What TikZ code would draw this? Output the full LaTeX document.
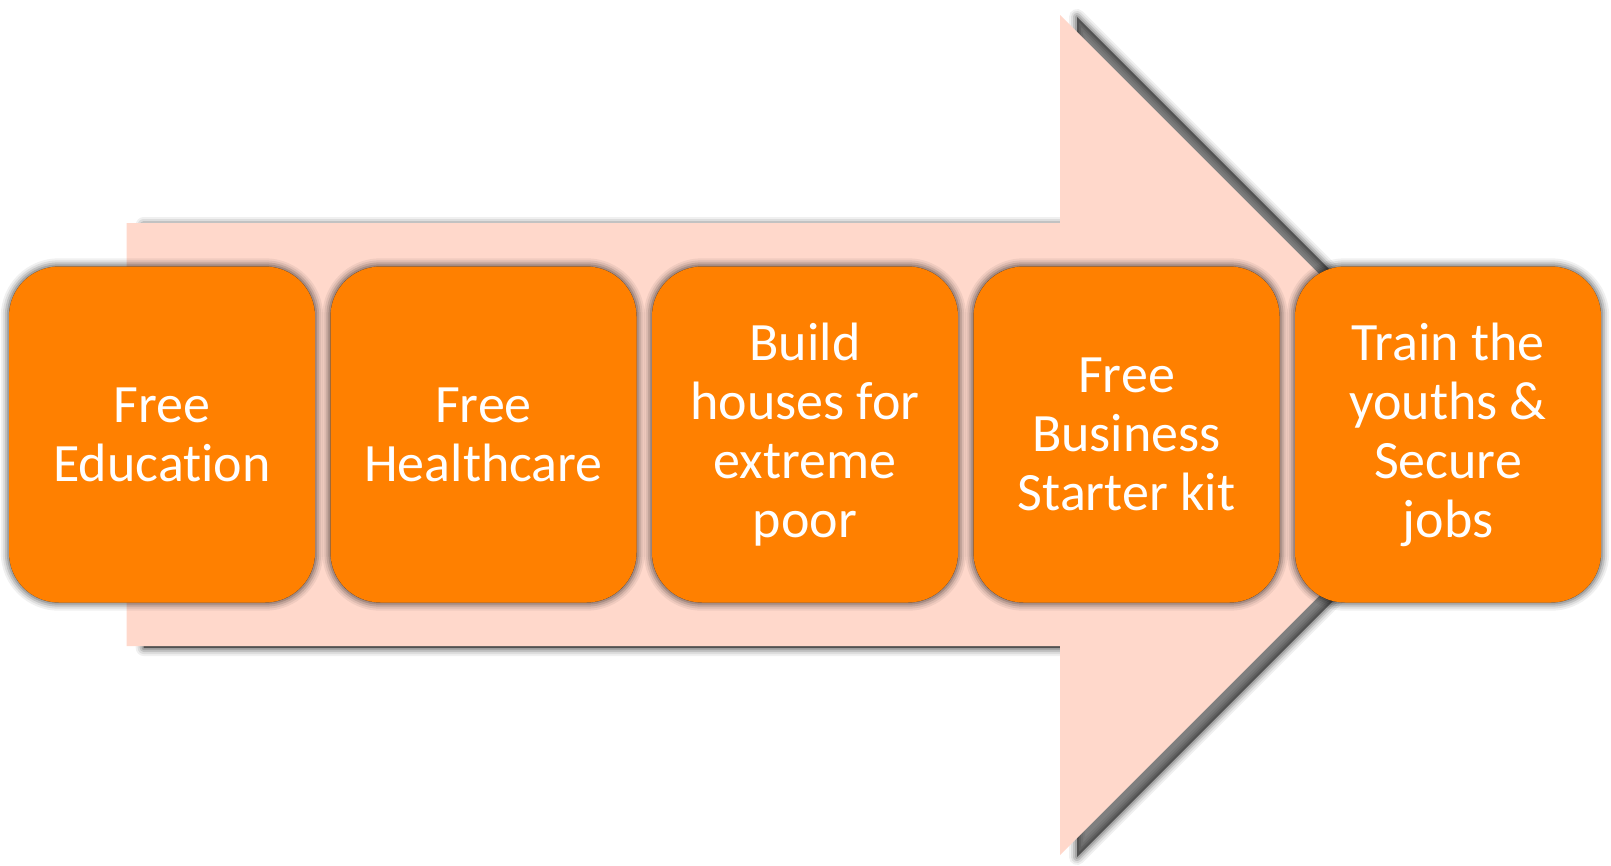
\documentclass[tikz,border=0pt]{standalone}
\usepackage{fontspec}
\setmainfont{Carlito}[Ligatures={NoCommon}]
\definecolor{boxorange}{HTML}{FF8000}
\definecolor{arrowpink}{HTML}{FFD8CB}
\pgfdeclarelayer{back}
\pgfdeclarelayer{boxshadow}
\pgfsetlayers{back,boxshadow,main}
\newcommand\mysoftshadow[2]{%
  \begin{scope}[shift={#1}]
    \foreach \w/\o in {16/0.06,12/0.08,8/0.12,4/0.15}{\draw[black,opacity=\o,line width=\w pt,line join=round] #2;}
    \fill[black,opacity=0.5] #2;
  \end{scope}}
\newcommand\myarrowpath{(126.7,223) -- (1060,223) -- (1060,15) -- (1480,435) -- (1060,855) -- (1060,646) -- (126.7,646) -- cycle}
\tikzset{
  stepbox/.style={fill=boxorange, rounded corners=50pt, minimum width=306pt, minimum height=336pt,
    inner sep=0pt, text=white, align=center, font=\fontsize{54}{59}\selectfont}
}
\begin{document}
\begin{tikzpicture}[x=1pt,y=-1pt]
\useasboundingbox (0,0) rectangle (1611,865);
\begin{pgfonlayer}{back}
  \mysoftshadow{(17,2)}{\myarrowpath}
  \fill[arrowpink] \myarrowpath;
\end{pgfonlayer}
\node[stepbox] (b1) at (162,434.5) {Free\\Educat\kern0pt ion};
\node[stepbox] (b2) at (483.5,434.5) {Free\\Healthcare};
\node[stepbox] (b3) at (805,434.5) {Build\\houses for\\extreme\\poor};
\node[stepbox] (b4) at (1126.5,434.5) {Free\\Business\\Starter kit};
\node[stepbox] (b5) at (1448,434.5) {Train the\\youths \&\\Secure\\jobs};
\begin{pgfonlayer}{boxshadow}
  \foreach \i in {1,...,5}{
    \mysoftshadow{(7,7)}{[rounded corners=50pt] (b\i.north west) rectangle (b\i.south east)}
  }
\end{pgfonlayer}
\end{tikzpicture}
\end{document}
